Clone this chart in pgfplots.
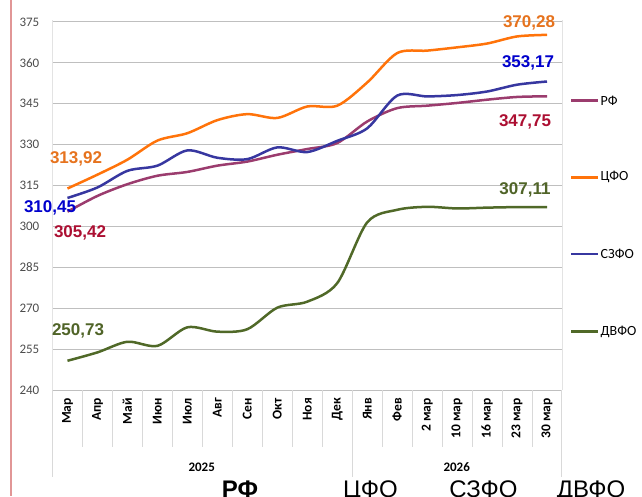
\documentclass[border=0pt]{standalone}
\usepackage{pgfplots}
\pgfplotsset{compat=1.18}
\usepackage{fontspec}
\setmainfont{Carlito}
\newfontfamily\arial{Liberation Sans}
\definecolor{crf}{RGB}{155,60,110}
\definecolor{ccfo}{RGB}{255,115,10}
\definecolor{cszfo}{RGB}{55,55,160}
\definecolor{cdvfo}{RGB}{80,105,40}
\definecolor{lrf}{RGB}{172,15,50}
\definecolor{lcfo}{RGB}{230,115,30}
\definecolor{lszfo}{RGB}{0,0,204}
\definecolor{ldvfo}{RGB}{80,100,40}
\definecolor{redline}{RGB}{225,150,150}
\definecolor{sepgray}{RGB}{217,217,217}
\begin{document}
\begin{tikzpicture}
\begin{axis}[
  at={(0pt,0pt)}, anchor=south west,
  scale only axis, width=509.5pt, height=368pt,
  xmin=-0.5, xmax=16.5, ymin=240, ymax=375,
  ytick={240,255,...,375},
  xtick={0,...,16},
  xticklabels={Мар,Апр,Май,Июн,Июл,Авг,Сен,Окт,Ноя,Дек,Янв,Фев,2 мар,10 мар,16 мар,23 мар,30 мар},
  ymajorgrids, grid style={draw=gray!50, line width=1pt},
  axis line style={draw=none},
  major tick length=0pt,
  tick style={draw=none},
  /pgf/number format/assume math mode=true,
  yticklabel style={font=\fontsize{13}{13}\selectfont, text=black!70, anchor=east, inner sep=0pt, xshift=-13pt},
  xticklabel style={font=\bfseries\fontsize{13.5}{13.5}\selectfont, yshift=-8pt, rotate=90, anchor=east, inner sep=0pt},
  clip=false,
]
\addplot[crf, line width=2.5pt, smooth] coordinates {
(0,305.42) (1,311.2) (2,315.5) (3,318.6) (4,320.0) (5,322.3) (6,323.8) (7,326.3) (8,328.4) (9,330.6) (10,338.5) (11,343.4) (12,344.3) (13,345.3) (14,346.5) (15,347.5) (16,347.75)};
\addplot[ccfo, line width=2.5pt, smooth] coordinates {
(0,313.92) (1,319.0) (2,324.5) (3,331.5) (4,334.2) (5,339.0) (6,341.2) (7,339.8) (8,344.0) (9,344.3) (10,352.8) (11,363.6) (12,364.5) (13,365.7) (14,367.1) (15,369.7) (16,370.28)};
\addplot[cszfo, line width=2.5pt, smooth] coordinates {
(0,310.45) (1,314.3) (2,320.4) (3,322.3) (4,327.9) (5,325.2) (6,324.7) (7,329.0) (8,327.3) (9,331.4) (10,336.0) (11,348.0) (12,347.7) (13,348.2) (14,349.5) (15,352.0) (16,353.17)};
\addplot[cdvfo, line width=2.5pt, smooth] coordinates {
(0,250.73) (1,253.8) (2,257.7) (3,256.2) (4,263.0) (5,261.4) (6,262.3) (7,270.2) (8,272.4) (9,279.2) (10,301.5) (11,306.1) (12,307.2) (13,306.6) (14,306.9) (15,307.1) (16,307.11)};
\end{axis}
\begin{scope}[x=1pt,y=-1pt,shift={(-52.5pt,390pt)}]
  % left red rule
  \draw[redline, line width=2pt] (11,0) -- (11,496);
  % plot area side borders
  \draw[gray!22, line width=0.8pt] (52.5,20) -- (52.5,390);
  \draw[gray!22, line width=0.8pt] (562,20) -- (562,390);
  % category separators
  \foreach \i in {1,...,9,11,12,13,14,15,16}
    \draw[sepgray, line width=1pt] ({52.5+29.97*\i},390) -- ({52.5+29.97*\i},447);
  \foreach \i in {0,10,17}
    \draw[sepgray, line width=1pt] ({52.5+29.97*\i},390) -- ({52.5+29.97*\i},477);
  % year labels
  \node[font=\bfseries\fontsize{13}{13}\selectfont] at (201.7,467) {2025};
  \node[font=\bfseries\fontsize{13}{13}\selectfont] at (456.7,467) {2026};
  % data labels
  \begin{scope}[every node/.style={font=\arial\bfseries\fontsize{17}{17}\selectfont, inner sep=0pt}]
    \node[text=lcfo] at (76,159) {313,92};
    \node[text=lszfo] at (50,208) {310,45};
    \node[text=lrf] at (80,233) {305,42};
    \node[text=ldvfo] at (78,331) {250,73};
    \node[text=lcfo] at (529,23) {370,28};
    \node[text=lszfo] at (528,63) {353,17};
    \node[text=lrf] at (525,122) {347,75};
    \node[text=ldvfo] at (525,190) {307,11};
  \end{scope}
  % legend
  \begin{scope}[every node/.style={font=\fontsize{14}{14}\selectfont, anchor=west, inner sep=0pt}]
    \draw[crf, line width=2.5pt] (571,100.5) -- (598,100.5);
    \node at (600.5,100.5) {РФ};
    \draw[ccfo, line width=2.5pt] (571,177.3) -- (598,177.3);
    \node at (600.5,177.3) {ЦФО};
    \draw[cszfo, line width=2.5pt] (571,254) -- (598,254);
    \node at (600.5,254) {СЗФО};
    \draw[cdvfo, line width=2.5pt] (571,331.7) -- (598,331.7);
    \node at (600.5,331.7) {ДВФО};
  \end{scope}
  % bottom captions (cut off by the page edge, as in the reference)
  \node[font=\arial\bfseries\fontsize{24}{24}\selectfont, anchor=base, inner sep=0pt] at (240,497) {РФ};
  \node[font=\arial\fontsize{24}{24}\selectfont, anchor=base, inner sep=0pt] at (370.5,497) {ЦФО};
  \node[font=\arial\fontsize{24}{24}\selectfont, anchor=base, inner sep=0pt] at (483.5,497) {СЗФО};
  \node[font=\arial\fontsize{24}{24}\selectfont, anchor=base, inner sep=0pt] at (591,497) {ДВФО};
  \pgfresetboundingbox
  \path[use as bounding box] (0,0) rectangle (642,496);
\end{scope}
\end{tikzpicture}
\end{document}
